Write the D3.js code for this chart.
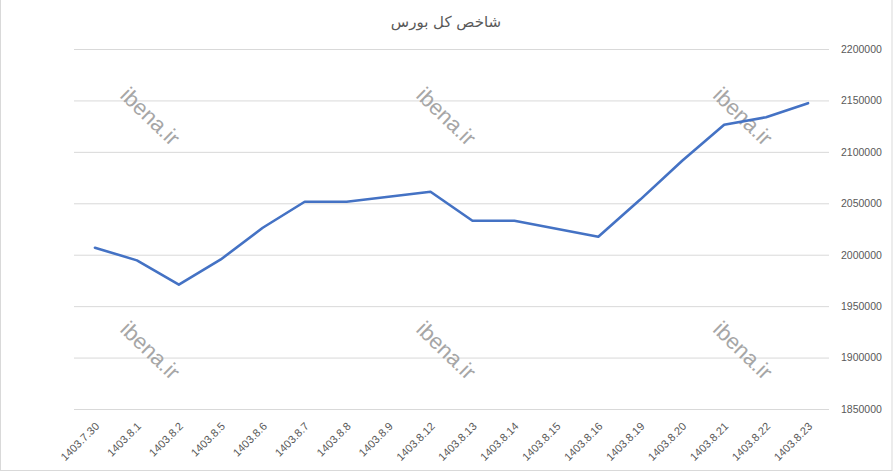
<!DOCTYPE html>
<html><head><meta charset="utf-8">
<script src="https://cdn.jsdelivr.net/npm/d3@7"></script>
<style>html,body{margin:0;padding:0;background:#fff;}</style>
</head><body>
<svg id="c" width="893" height="472"></svg>
<script>
const title = "شاخص کل بورس";
const categories = ["1403.7.30","1403.8.1","1403.8.2","1403.8.5","1403.8.6","1403.8.7","1403.8.8","1403.8.9","1403.8.12","1403.8.13","1403.8.14","1403.8.15","1403.8.16","1403.8.19","1403.8.20","1403.8.21","1403.8.22","1403.8.23"];
const values = [2006800,1994500,1970900,1995400,2026200,2051500,2051500,2056400,2061200,2033000,2033000,2025200,2017500,2053600,2091400,2126300,2133700,2147300];
const yTicks = [1850000,1900000,1950000,2000000,2050000,2100000,2150000,2200000];
const watermark = "ibena.ir";
const watermarkSpots = [[0.098,0.82],[0.490,0.82],[0.883,0.82],[0.098,0.17],[0.490,0.17],[0.883,0.17]];

const W = 893, H = 472;
const m = {left:74, right:64, top:49, bottom:63};
const svg = d3.select("#c");
const font = "'Liberation Sans', Arial, sans-serif";

svg.append("rect").attr("x",0.5).attr("y",-1).attr("width",W-1.5).attr("height",H-0.5)
  .attr("fill","#fff").attr("stroke","#d9d9d9").attr("stroke-width",1);

const x = d3.scaleBand().domain(categories).range([m.left, W - m.right]).padding(0);
const y = d3.scaleLinear().domain([yTicks[0], yTicks[yTicks.length-1]]).range([H - m.bottom, m.top]);

// gridlines
const yAxis = d3.axisRight(y).tickValues(yTicks).tickSize(-(W - m.right - m.left)).tickPadding(12).tickFormat(d3.format("d"));
const gy = svg.append("g").attr("transform", `translate(${W - m.right},0)`).call(yAxis);
gy.select(".domain").remove();
gy.selectAll(".tick line").attr("stroke","#d9d9d9").attr("stroke-width",1);
gy.selectAll(".tick text").attr("fill","#595959").attr("font-size","10.5px").attr("font-family",font);

// x axis labels
const xAxis = d3.axisBottom(x).tickSize(0).tickPadding(0);
const gx = svg.append("g").attr("transform", `translate(0,${H - m.bottom})`).call(xAxis);
gx.select(".domain").remove();
gx.selectAll(".tick text")
  .attr("fill","#595959").attr("font-size","11px").attr("font-family",font)
  .attr("text-anchor","end")
  .attr("dy","0")
  .attr("y",0)
  .attr("transform","translate(5,18) rotate(-45)");

// watermarks
const plotW = W - m.right - m.left, plotH = H - m.bottom - m.top;
svg.append("g").selectAll("text").data(watermarkSpots).join("text")
  .attr("transform", d => `translate(${m.left + d[0]*plotW - 3},${m.top + (1-d[1])*plotH + 8}) rotate(44)`)
  .attr("text-anchor","middle")
  .attr("font-family",font)
  .attr("font-size","22px")
  .attr("fill","#a6a6a6")
  .text(watermark);

// line
const line = d3.line().x((d,i) => x(categories[i]) + x.bandwidth()/2).y(d => y(d));
svg.append("path").datum(values).attr("d", line)
  .attr("fill","none").attr("stroke","#4472C4").attr("stroke-width",2.6)
  .attr("stroke-linejoin","round").attr("stroke-linecap","round");

// title
svg.append("text").attr("x", 446).attr("y", 27).attr("text-anchor","middle")
  .attr("font-family","'DejaVu Sans', Tahoma, Arial, sans-serif").attr("font-size","15px")
  .attr("fill","#595959").attr("direction","rtl").text(title);
</script>
</body></html>
